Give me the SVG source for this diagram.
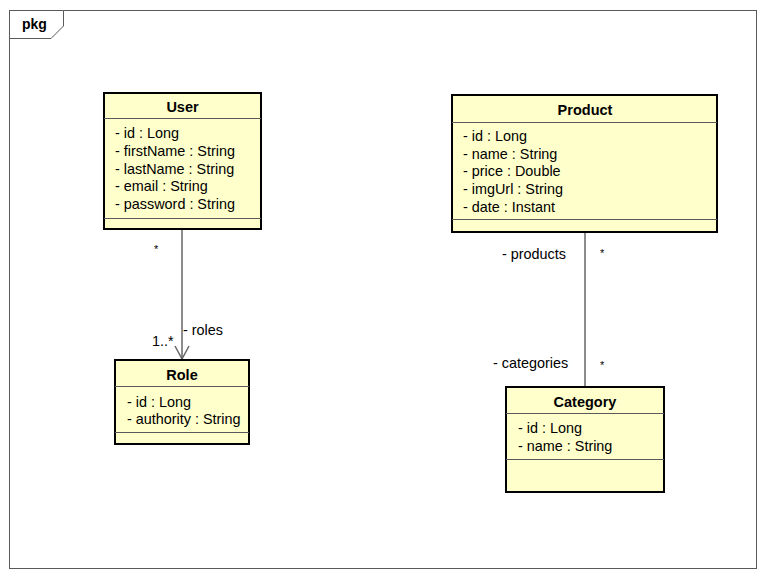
<svg xmlns="http://www.w3.org/2000/svg" width="767" height="576" viewBox="0 0 767 576">
<defs>
<style>
.frame{fill:#ffffff;stroke:#5a5a5a;stroke-width:1}
.box{fill:#ffffcc;stroke:#000000;stroke-width:2}
.sep{stroke:#5a5a5a;stroke-width:1}
.t{font-family:"Liberation Sans",Arial,sans-serif;font-size:14.4px;fill:#000}
.b{font-family:"Liberation Sans",Arial,sans-serif;font-size:14.5px;font-weight:bold;fill:#000;text-anchor:middle}
.m{font-family:"Liberation Sans",Arial,sans-serif;font-size:11px;fill:#000}
.ln{stroke:#666666;stroke-width:1.5;fill:none}
</style>
</defs>
<rect x="0" y="0" width="767" height="576" fill="#ffffff"/>
<g id="frame">
<rect class="frame" x="9.5" y="10.5" width="747" height="558"/>
<path class="frame" d="M9.5 38.5 H51 L63.5 26 V10.5" fill="none"/>
<text x="22" y="29" style="font-family:'Liberation Sans',Arial,sans-serif;font-size:14px;font-weight:bold">pkg</text>
</g>
<g id="connectors">
<line class="ln" x1="182" y1="230" x2="182" y2="359"/>
<path class="ln" d="M175 346 L182 359 L189 346"/>
<line class="ln" x1="585" y1="233" x2="585" y2="386"/>
<text class="m" x="154" y="253">*</text>
<text class="t" x="152" y="346">1..*</text>
<text class="t" x="183" y="335">- roles</text>
<text class="t" x="502" y="259">- products</text>
<text class="m" x="600" y="257">*</text>
<text class="t" x="493" y="368">- categories</text>
<text class="m" x="600" y="369">*</text>
</g>
<g id="User">
<rect class="box" x="104" y="93" width="157" height="136"/>
<line class="sep" x1="104" y1="118.5" x2="261" y2="118.5"/>
<line class="sep" x1="104" y1="218.5" x2="261" y2="218.5"/>
<text class="b" x="182.5" y="112">User</text>
<text class="t" x="115" y="138">- id : Long</text>
<text class="t" x="115" y="156">- firstName : String</text>
<text class="t" x="115" y="174">- lastName : String</text>
<text class="t" x="115" y="191">- email : String</text>
<text class="t" x="115" y="209">- password : String</text>
</g>
<g id="Product">
<rect class="box" x="452" y="95" width="265" height="137"/>
<line class="sep" x1="452" y1="122.5" x2="717" y2="122.5"/>
<line class="sep" x1="452" y1="219.5" x2="717" y2="219.5"/>
<text class="b" x="585" y="115">Product</text>
<text class="t" x="463" y="141">- id : Long</text>
<text class="t" x="463" y="159">- name : String</text>
<text class="t" x="463" y="176">- price : Double</text>
<text class="t" x="463" y="194">- imgUrl : String</text>
<text class="t" x="463" y="212">- date : Instant</text>
</g>
<g id="Role">
<rect class="box" x="115" y="360" width="134" height="84"/>
<line class="sep" x1="115" y1="386.5" x2="249" y2="386.5"/>
<line class="sep" x1="115" y1="432.5" x2="249" y2="432.5"/>
<text class="b" x="182" y="380">Role</text>
<text class="t" x="127" y="407">- id : Long</text>
<text class="t" x="127" y="424">- authority : String</text>
</g>
<g id="Category">
<rect class="box" x="506" y="387" width="158" height="105"/>
<line class="sep" x1="506" y1="413.5" x2="664" y2="413.5"/>
<line class="sep" x1="506" y1="459.5" x2="664" y2="459.5"/>
<text class="b" x="585" y="407">Category</text>
<text class="t" x="518" y="433">- id : Long</text>
<text class="t" x="518" y="451">- name : String</text>
</g>
</svg>
